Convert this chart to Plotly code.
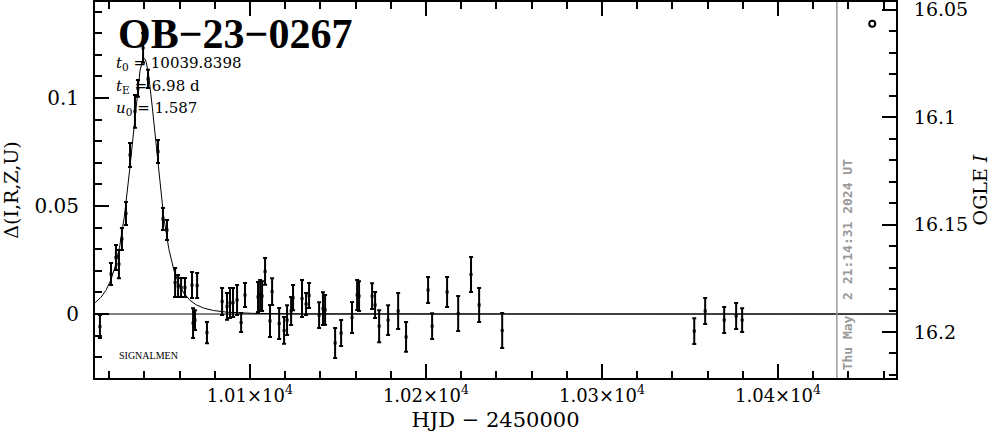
import numpy as np
import plotly.graph_objects as go

# ---- data ----
hjd = [10014.8, 10021.1, 10023.9, 10025.6, 10027.3, 10029.6, 10031.9, 10034.7, 10036.4, 10039.3,
       10042.1, 10047.8, 10050.6, 10052.9, 10057.5, 10059.2, 10060.9, 10063.1, 10067.1, 10070.0,
       10067.7, 10068.8, 10075.6, 10084.2, 10087.0, 10088.7, 10090.4, 10092.7, 10095.0, 10097.2,
       10104.6, 10105.8, 10106.9, 10108.6, 10111.4, 10112.6, 10116.6, 10119.4, 10121.1, 10123.4,
       10124.5, 10129.6, 10131.9, 10133.6, 10139.3, 10141.5, 10142.7, 10148.4, 10151.8, 10158.0,
       10160.9, 10162.0, 10169.4, 10171.1, 10173.4, 10178.5, 10184.2, 10188.7, 10201.2, 10203.5,
       10212.0, 10218.3, 10225.6, 10230.2, 10243.3, 10352.4, 10358.6, 10369.4, 10376.2, 10379.6]
delta = [-0.0058, 0.0185, 0.0262, 0.0231, 0.0347, 0.0465, 0.0736, 0.0938, 0.1044, 0.1232,
         0.1088, 0.0752, 0.0440, 0.0389, 0.0146, 0.0130, 0.0123, 0.0123, 0.0134, 0.0132,
         -0.0042, -0.0028, -0.0086, 0.0058, 0.0035, 0.0051, 0.0053, 0.0065, -0.0039, 0.0088,
         0.0079, 0.0088, 0.0083, 0.0197, -0.0032, 0.0104, -0.0044, -0.0076, -0.0028, 0.0014,
         0.0076, 0.0072, 0.0046, 0.0086, -0.0005, 0.0025, 0.0019, -0.0134, -0.0088, -0.0016,
         0.0088, 0.0083, 0.0083, 0.0042, -0.0056, -0.0028, 0.0014, -0.0106, 0.0111, -0.0056,
         0.0102, 0.0002, 0.0183, 0.0042, -0.0076, -0.0079, 0.0014, -0.0028, -0.0009, -0.0028]
err = [0.0053, 0.0051, 0.0058, 0.0065, 0.0051, 0.0053, 0.0056, 0.0076, 0.0039, 0.0069,
       0.0042, 0.0053, 0.0051, 0.0046, 0.0067, 0.0051, 0.0044, 0.0044, 0.0060, 0.0058,
       0.0069, 0.0046, 0.0049, 0.0062, 0.0062, 0.0069, 0.0067, 0.0069, 0.0044, 0.0056,
       0.0069, 0.0069, 0.0069, 0.0062, 0.0074, 0.0062, 0.0072, 0.0062, 0.0069, 0.0065,
       0.0058, 0.0086, 0.0051, 0.0058, 0.0060, 0.0076, 0.0069, 0.0069, 0.0060, 0.0072,
       0.0069, 0.0069, 0.0060, 0.0060, 0.0074, 0.0069, 0.0083, 0.0069, 0.0060, 0.0060,
       0.0069, 0.0081, 0.0081, 0.0079, 0.0081, 0.0060, 0.0060, 0.0060, 0.0060, 0.0055]

# model parameters shown on the chart
t0 = 10039.8398
tE = 6.98
u0 = 1.587

now_hjd = 10433.4
marker_hjd = [10453.5]
marker_delta = [0.1343]

x_ticks = [10100, 10200, 10300, 10400]
x_tick_text = ["1.01×10<sup>4</sup>", "1.02×10<sup>4</sup>", "1.03×10<sup>4</sup>", "1.04×10<sup>4</sup>"]
y_ticks = [0, 0.05, 0.1]
y_tick_text = ["0", "0.05", "0.1"]
i_ticks = [16.05, 16.1, 16.15, 16.2]
i_tick_text = ["16.05", "16.1", "16.15", "16.2"]

x_range = [10012, 10467]
y_range = [-0.0296, 0.1444]
i_range = [16.2214, 16.0465]

# Paczynski model curve from the listed parameters
tm = np.linspace(x_range[0], x_range[1], 2000)
u = np.sqrt(u0 ** 2 + ((tm - t0) / tE) ** 2)
amp = (u ** 2 + 2) / (u * np.sqrt(u ** 2 + 4))
model = 2.5 * np.log10(amp)

SERIF = "DejaVu Serif"
fig = go.Figure()

fig.add_trace(go.Scatter(x=tm, y=model, mode="lines",
                         line=dict(color="black", width=1), hoverinfo="skip"))
fig.add_trace(go.Scatter(x=hjd, y=delta, mode="markers",
                         marker=dict(color="black", size=3, symbol="square"),
                         error_y=dict(type="data", array=err, visible=True,
                                      color="black", thickness=2, width=2)))
fig.add_trace(go.Scatter(x=marker_hjd, y=marker_delta, mode="markers",
                         marker=dict(color="white", size=6, symbol="circle",
                                     line=dict(color="black", width=2))))
# dummy trace to activate right axis
fig.add_trace(go.Scatter(x=[x_range[0]], y=[16.1], yaxis="y2", mode="markers",
                         marker=dict(opacity=0), hoverinfo="skip"))

fig.add_shape(type="line", xref="paper", x0=0, x1=1, yref="y", y0=0, y1=0,
              line=dict(color="black", width=1))
fig.add_shape(type="line", xref="x", x0=now_hjd, x1=now_hjd, yref="paper", y0=0, y1=1,
              line=dict(color="#999999", width=1.5))

fig.add_annotation(x=0.026, y=0.915, xref="paper", yref="paper", xanchor="left", yanchor="middle",
                   text="<b>OB−23−0267</b>", showarrow=False,
                   font=dict(family="Liberation Serif", size=42, color="black"))
params = [("<i>t</i><sub>0</sub> = 10039.8398", 64),
          ("<i>t</i><sub>E</sub> = 6.98 d", 86),
          ("<i>u</i><sub>0</sub> = 1.587", 108)]
for txt, ypix in params:
    fig.add_annotation(x=(114 - 95) / 801, y=(378 - ypix) / 376, xref="paper", yref="paper",
                       xanchor="left", yanchor="middle", text=txt, showarrow=False,
                       font=dict(family=SERIF, size=15, color="black"))
fig.add_annotation(x=(117 - 95) / 801, y=(378 - 355) / 376, xref="paper", yref="paper",
                   xanchor="left", yanchor="middle", text="SIGNALMEN", showarrow=False,
                   font=dict(family="Liberation Serif", size=10, color="black"))
fig.add_annotation(x=now_hjd, xref="x", y=(378 - 265) / 376, yref="paper",
                   xanchor="left", yanchor="middle", xshift=1, textangle=-90,
                   text="<b>Thu May  2 21:14:31 2024 UT</b>", showarrow=False,
                   font=dict(family="DejaVu Sans Mono", size=13, color="#999999"))

axis_common = dict(showline=True, linecolor="black", linewidth=2, ticks="inside",
                   ticklen=14, tickwidth=2, tickcolor="black", showgrid=False, zeroline=False,
                   automargin=False, ticklabeloverflow="allow")

fig.update_layout(
    width=999, height=435,
    margin=dict(l=95, r=103, t=2, b=57),
    paper_bgcolor="white", plot_bgcolor="white",
    showlegend=False,
    xaxis=dict(range=x_range, tickvals=x_ticks, ticktext=x_tick_text, mirror="ticks",
               tickfont=dict(family=SERIF, size=18, color="black"),
               title=dict(text="HJD − 2450000", standoff=8,
                          font=dict(family=SERIF, size=21, color="black")),
               minor=dict(ticks="inside", dtick=20, tick0=10000, ticklen=7, tickwidth=2,
                          tickcolor="black", showgrid=False),
               **axis_common),
    yaxis=dict(range=y_range, tickvals=y_ticks, ticktext=y_tick_text,
               tickfont=dict(family=SERIF, size=20, color="black"),
               title=dict(text="Δ(I,R,Z,U)", standoff=12,
                          font=dict(family=SERIF, size=19, color="black")),
               minor=dict(ticks="inside", dtick=0.01, tick0=0, ticklen=7, tickwidth=2,
                          tickcolor="black", showgrid=False),
               ticklabelstandoff=10,
               **axis_common),
    yaxis2=dict(range=i_range, overlaying="y", side="right", tickvals=i_ticks, ticktext=i_tick_text,
                tickfont=dict(family=SERIF, size=19, color="black"),
                title=dict(text="OGLE <i>I</i>", standoff=6,
                           font=dict(family=SERIF, size=19, color="black")),
                minor=dict(ticks="inside", dtick=0.01, tick0=16.0, ticklen=7, tickwidth=2,
                           tickcolor="black", showgrid=False),
                ticklabelstandoff=12,
                **axis_common),
)

fig.write_html("out.html", config={"displayModeBar": False},
               post_script="document.body.style.margin='0';document.body.style.overflow='hidden';")
